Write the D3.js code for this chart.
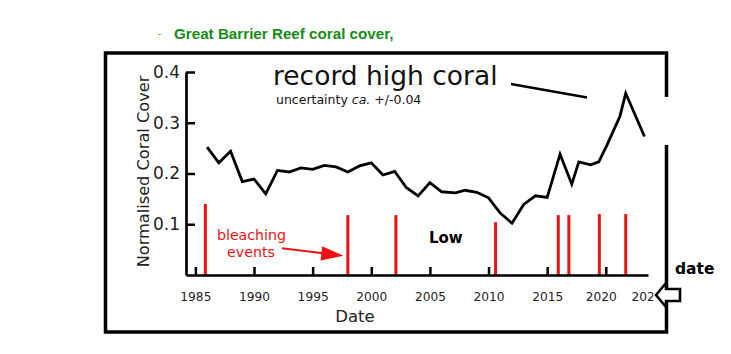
<!DOCTYPE html>
<html>
<head>
<meta charset="utf-8">
<script src="https://cdn.jsdelivr.net/npm/d3@7"></script>
<style>
  body { margin: 0; background: #fff; }
  svg { display: block; }
</style>
</head>
<body>
<div id="chart"></div>
<script>
// coral cover series (year, normalised cover)
const coverYears = [1986, 1987, 1988, 1989, 1990, 1991, 1992, 1993, 1994, 1995,
    1996, 1997, 1998, 1999, 2000, 2001, 2002, 2003, 2004, 2005,
    2006, 2007.2, 2008, 2009, 2010, 2011, 2012, 2013, 2014, 2015,
    2016.1, 2017.1, 2017.7, 2018.7, 2019.4, 2020.1, 2021.2, 2021.7, 2023.3];
const coverValues = [0.252, 0.221, 0.244, 0.184, 0.189, 0.160, 0.206, 0.203, 0.211, 0.208,
    0.216, 0.213, 0.203, 0.215, 0.221, 0.197, 0.204, 0.172, 0.156, 0.182,
    0.164, 0.162, 0.167, 0.163, 0.152, 0.122, 0.102, 0.139, 0.156, 0.153,
    0.238, 0.179, 0.223, 0.217, 0.223, 0.256, 0.312, 0.358, 0.273];

// bleaching events (red bars)
const bleachYears = [1985.85, 1998.0, 2002.1, 2010.6, 2015.95, 2016.85, 2019.45, 2021.7];
const bleachHeights = [0.140, 0.118, 0.118, 0.104, 0.118, 0.118, 0.120, 0.120];

const yTicks = [0.1, 0.2, 0.3, 0.4];
const xTicks = [1985, 1990, 1995, 2000, 2005, 2010, 2015, 2020, 2025];

const width = 731, height = 354;

const svg = d3.select("#chart")
    .append("svg")
    .attr("width", width)
    .attr("height", height);

const x = d3.scaleLinear()
    .domain([1984.2, 2023.6])
    .range([186, 648]);

const y = d3.scaleLinear()
    .domain([0, 0.4])
    .range([275, 72]);

// title
svg.append("text")
    .attr("x", 158)
    .attr("y", 37)
    .style("font-family", "Liberation Sans, Arial, sans-serif")
    .style("font-size", "9px")
    .style("fill", "#168c16")
    .text("-");

svg.append("text")
    .attr("x", 174)
    .attr("y", 39)
    .style("font-family", "Liberation Sans, Arial, sans-serif")
    .style("font-size", "15.2px")
    .style("font-weight", "bold")
    .style("fill", "#168c16")
    .text("Great Barrier Reef coral cover,");

// bleaching bars
svg.selectAll(".bleach")
    .data(bleachYears)
    .enter()
    .append("line")
    .attr("class", "bleach")
    .attr("x1", d => x(d))
    .attr("x2", d => x(d))
    .attr("y1", y(0))
    .attr("y2", (d, i) => y(bleachHeights[i]))
    .attr("stroke", "#ee1111")
    .attr("stroke-width", 3);

// axes
const xAxis = svg.append("g")
    .attr("transform", `translate(0,${y(0)})`)
    .call(d3.axisBottom(x).tickValues(xTicks).tickSize(-8).tickSizeOuter(0).tickFormat(d3.format("d")));

xAxis.select(".domain").attr("stroke-width", 2.7);
xAxis.selectAll(".tick line").attr("stroke-width", 2.5);
xAxis.selectAll(".tick").filter(d => d === 2025).select("line").remove();
xAxis.selectAll(".tick text")
    .attr("y", 26)
    .attr("dy", null)
    .attr("dx", d => d === 2020 ? -5 : d === 2025 ? -18 : 0)
    .style("font-family", "DejaVu Sans, Verdana, sans-serif")
    .style("font-size", "12.2px")
    .style("fill", "#222");

svg.append("clipPath")
    .attr("id", "labelClip")
    .append("rect")
    .attr("x", 0).attr("y", 0)
    .attr("width", 653).attr("height", height);
xAxis.attr("clip-path", null);
xAxis.selectAll(".tick").filter(d => d === 2025)
    .attr("clip-path", null)
    .select("text")
    .attr("clip-path", "url(#labelClipLocal)");
// local clip for the cut-off last label (tick group is translated)
xAxis.selectAll(".tick").filter(d => d === 2025).each(function (d) {
    d3.select(this).append("clipPath")
        .attr("id", "labelClipLocal")
        .append("rect")
        .attr("x", -40).attr("y", 0)
        .attr("width", 653 - x(d) + 40).attr("height", 40);
});

const yAxis = svg.append("g")
    .attr("transform", `translate(${x.range()[0]},0)`)
    .call(d3.axisLeft(y).tickValues(yTicks).tickSize(-9).tickSizeOuter(0).tickFormat(d3.format(".1f")));

yAxis.select(".domain").attr("stroke-width", 2.7);
yAxis.selectAll(".tick line").attr("stroke-width", 2.5);
yAxis.selectAll(".tick text")
    .attr("x", -6)
    .style("font-family", "DejaVu Sans, Verdana, sans-serif")
    .style("font-size", "17px")
    .style("fill", "#222");

// coral cover line
const line = d3.line()
    .x((d, i) => x(coverYears[i]))
    .y(d => y(d));

svg.append("path")
    .datum(coverValues)
    .attr("d", line)
    .attr("fill", "none")
    .attr("stroke", "#000")
    .attr("stroke-width", 2.8)
    .attr("stroke-linejoin", "miter");

// axis titles
svg.append("text")
    .attr("x", 355)
    .attr("y", 322)
    .attr("text-anchor", "middle")
    .style("font-family", "DejaVu Sans, Verdana, sans-serif")
    .style("font-size", "16.5px")
    .style("fill", "#222")
    .text("Date");

svg.append("text")
    .attr("transform", "translate(149,171.5) rotate(-90)")
    .attr("text-anchor", "middle")
    .style("font-family", "DejaVu Sans, Verdana, sans-serif")
    .style("font-size", "16.2px")
    .style("fill", "#222")
    .text("Normalised Coral Cover");

// annotations
svg.append("text")
    .attr("x", 273)
    .attr("y", 85)
    .style("font-family", "DejaVu Sans, Verdana, sans-serif")
    .style("font-size", "26.5px")
    .style("fill", "#111")
    .text("record high coral");

svg.append("line")
    .attr("x1", 511).attr("y1", 84)
    .attr("x2", 587).attr("y2", 97.5)
    .attr("stroke", "#000")
    .attr("stroke-width", 2.5);

const unc = svg.append("text")
    .attr("x", 276)
    .attr("y", 103.5)
    .style("font-family", "DejaVu Sans, Verdana, sans-serif")
    .style("font-size", "12.5px")
    .style("fill", "#111");
unc.append("tspan").text("uncertainty ");
unc.append("tspan").style("font-style", "italic").text("ca.");
unc.append("tspan").text(" +/-0.04");

const bleachLabel = svg.append("text")
    .attr("text-anchor", "middle")
    .style("font-family", "DejaVu Sans, Verdana, sans-serif")
    .style("font-size", "14.2px")
    .style("fill", "#ee1111");
bleachLabel.append("tspan").attr("x", 251.5).attr("y", 240).text("bleaching");
bleachLabel.append("tspan").attr("x", 251).attr("y", 256.5).text("events");

svg.append("line")
    .attr("x1", 282).attr("y1", 248.3)
    .attr("x2", 323).attr("y2", 253.3)
    .attr("stroke", "#ee1111")
    .attr("stroke-width", 2);

svg.append("polygon")
    .attr("points", "343.5,255.7 322.2,246.3 320.6,260.6")
    .attr("fill", "#ee1111");

svg.append("text")
    .attr("x", 429)
    .attr("y", 243)
    .style("font-family", "DejaVu Sans, Verdana, sans-serif")
    .style("font-size", "15px")
    .style("font-weight", "bold")
    .style("fill", "#000")
    .text("Low");

// outer frame
svg.append("rect")
    .attr("x", 105.5)
    .attr("y", 53)
    .attr("width", 561)
    .attr("height", 279)
    .attr("fill", "none")
    .attr("stroke", "#000")
    .attr("stroke-width", 3.5);

// white patch over the frame edge
svg.append("rect")
    .attr("x", 656)
    .attr("y", 97)
    .attr("width", 24)
    .attr("height", 48)
    .attr("fill", "#fff");

// "date" pointer
svg.append("text")
    .attr("x", 675)
    .attr("y", 273.5)
    .style("font-family", "DejaVu Sans, Verdana, sans-serif")
    .style("font-size", "15.5px")
    .style("font-weight", "bold")
    .style("fill", "#000")
    .text("date");

svg.append("path")
    .attr("d", "M656,295 L666,283 L666,289 L680,289 L680,301 L666,301 L666,307 Z")
    .attr("fill", "#fff")
    .attr("stroke", "#000")
    .attr("stroke-width", 2.6)
    .attr("stroke-linejoin", "miter");
</script>
</body>
</html>
